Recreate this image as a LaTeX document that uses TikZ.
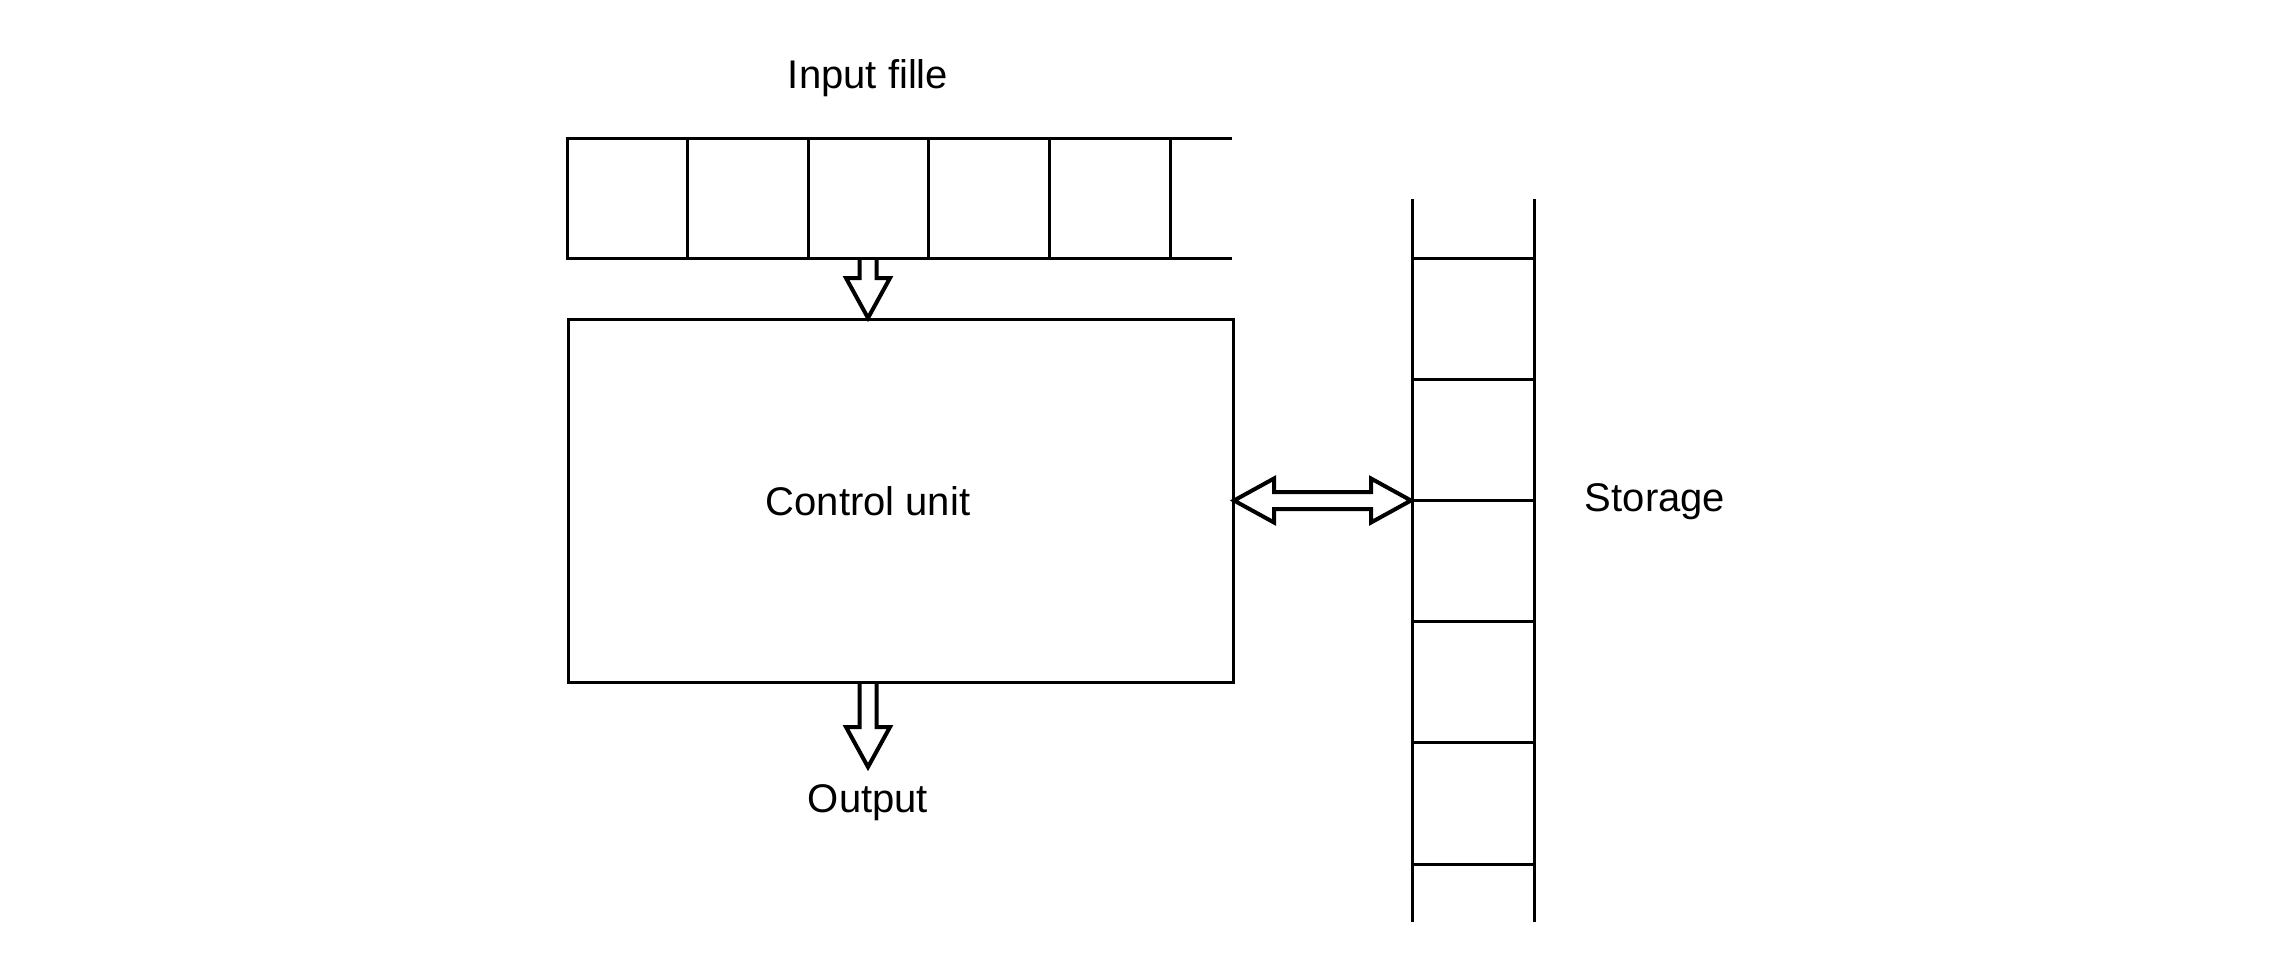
\documentclass[tikz,border=0pt]{standalone}
\usepackage{fontspec}
\setmainfont{Liberation Sans}
\usetikzlibrary{calc}
\tikzset{
  lbl/.style={anchor=base, inner sep=0pt},
  hollow/.style={line width=4pt, fill=white, line join=miter},
  unitbox/.style={draw, line width=3pt, minimum width=665pt, minimum height=363pt, anchor=north west, inner sep=0pt},
  thin/.style={line width=3pt}
}
\begin{document}
\begin{tikzpicture}[x=1pt,y=-1pt, font=\fontsize{40}{48}\selectfont]
\useasboundingbox (0,0) rectangle (2278,964);
\coordinate (tapeS) at (868,258.6);
\coordinate (cuN) at (868,318);
\coordinate (cuS) at (868,681);
\coordinate (outtip) at (868,767);
\coordinate (stW) at (1411,500.5);
\coordinate (cuE) at (1234,500.5);
% arrows (drawn first, lines of boxes pass over their open ends)
\draw[hollow] ($(tapeS)+(-8.5,0)$) -- ($(cuN)+(-8.5,-40)$) -- ($(cuN)+(-22,-40)$) -- (cuN)
  -- ($(cuN)+(22,-40)$) -- ($(cuN)+(8.5,-40)$) -- ($(tapeS)+(8.5,0)$);
\draw[hollow] ($(cuS)+(-8.5,0)$) -- ($(outtip)+(-8.5,-40)$) -- ($(outtip)+(-22,-40)$) -- (outtip)
  -- ($(outtip)+(22,-40)$) -- ($(outtip)+(8.5,-40)$) -- ($(cuS)+(8.5,0)$);
\draw[hollow] (cuE) -- ($(cuE)+(40,-22)$) -- ($(cuE)+(40,-8.5)$) -- ($(stW)+(-40,-8.5)$)
  -- ($(stW)+(-40,-22)$) -- (stW) -- ($(stW)+(-40,22)$) -- ($(stW)+(-40,8.5)$)
  -- ($(cuE)+(40,8.5)$) -- ($(cuE)+(40,22)$) -- cycle;
% input tape
\draw[thin] (1232,138) -- (567,138) -- (567,258.6) -- (1232,258.6);
\foreach \xx in {687.6,808,928.5,1049,1170} \draw[thin] (\xx,138) -- (\xx,258.6);
\node[lbl] (inlbl) at (868,88.5) {Input fille};
% control unit
\node[unitbox] (cu) at (567,318) {};
\node[lbl] (culbl) at (868,515.5) {Control unit};
\node[lbl] (outlbl) at (868,812.5) {Output};
% storage
\draw[thin] (1412,199) -- (1412,922);
\draw[thin] (1534,199) -- (1534,922);
\foreach \yy in {258.6,379.5,500.5,621.5,742.5,864} \draw[thin] (1412,\yy) -- (1534,\yy);
\node[lbl] (stlbl) at (1655,511.5) {Storage};
\end{tikzpicture}
\end{document}
